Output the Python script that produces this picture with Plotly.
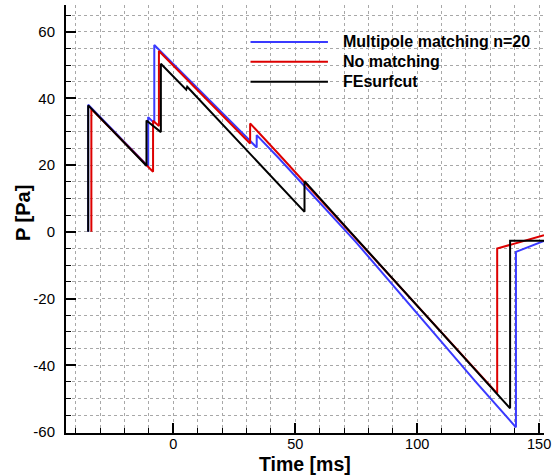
import plotly.graph_objects as go

# Multipole matching n=20
blue_x = [-34.9, -34.9, -10.3, -10.3, -7.8, -7.8, 34.2, 34.2, 43.0, 74.8, 124.3, 140.5, 140.5, 152.0]
blue_y = [0.0, 38.1, 19.6, 34.4, 32.6, 56.0, 25.3, 29.0, 22.3, -3.0, -45.2, -58.6, -6.0, -2.7]

# No matching
red_x = [-33.6, -33.6, -8.3, -8.3, -5.9, -5.9, 31.5, 31.5, 43.0, 74.8, 124.3, 132.8, 132.8, 152.0]
red_y = [0.0, 36.8, 18.0, 33.3, 31.7, 54.2, 26.5, 32.5, 23.5, -2.0, -41.9, -48.4, -5.0, -1.0]

# FEsurfcut
black_x = [-34.9, -34.9, -11.0, -11.0, -5.1, -5.1, 5.3, 5.7, 53.8, 53.8, 74.8, 124.3, 138.1, 138.1, 152.0]
black_y = [0.0, 37.9, 19.8, 33.4, 29.9, 50.4, 42.6, 43.5, 6.0, 15.2, -1.8, -41.6, -52.9, -2.7, -2.7]

series_names = ["Multipole matching n=20", "No matching", "FEsurfcut"]
series_colors = ["#3a3aff", "#dd0000", "#000000"]

x_ticks = [0, 50, 100, 150]
x_labels = ["0", "50", "100", "150"]
y_ticks = [-60, -40, -20, 0, 20, 40, 60]
y_labels = ["-60", "-40", "-20", "0", "20", "40", "60"]

FONT = "Liberation Sans, Arial, Helvetica, sans-serif"

fig = go.Figure()
for xs, ys, name, col in zip([blue_x, red_x, black_x], [blue_y, red_y, black_y], series_names, series_colors):
    fig.add_trace(go.Scatter(x=xs, y=ys, mode="lines", name=name,
                             line=dict(color=col, width=2), showlegend=False))

grid = dict(showgrid=True, gridcolor="#a8a8a8", griddash="dot", gridwidth=1)

fig.update_layout(
    width=556, height=476, autosize=False,
    margin=dict(l=66, r=8, t=5, b=43),
    paper_bgcolor="white", plot_bgcolor="white",
    font=dict(family=FONT, size=15, color="black"),
    xaxis=dict(range=[-44, 152], tickmode="array", tickvals=x_ticks, ticktext=x_labels,
               ticks="inside", ticklen=10, tickwidth=2, tickcolor="black",
               showline=True, linecolor="black", linewidth=2, mirror=False,
               zeroline=False, ticklabelstandoff=-3,
               tickfont=dict(size=14.5),
               minor=dict(dtick=10, tick0=0, ticks="inside", ticklen=5, tickwidth=1,
                          tickcolor="black", **grid),
               **grid),
    yaxis=dict(range=[-60.3, 68], tickmode="array", tickvals=y_ticks, ticktext=y_labels,
               ticks="inside", ticklen=10, tickwidth=2, tickcolor="black",
               showline=True, linecolor="black", linewidth=2, mirror=False,
               zeroline=False, ticklabelstandoff=6,
               tickfont=dict(size=15),
               minor=dict(dtick=5, tick0=0, ticks="inside", ticklen=5, tickwidth=1,
                          tickcolor="black", **grid),
               **grid),
)

# axis titles
fig.add_annotation(text="<b>Time [ms]</b>", xref="paper", yref="paper",
                   x=0.5, y=-0.072, xanchor="center", yanchor="middle",
                   showarrow=False, font=dict(size=19.5, family=FONT))
fig.add_annotation(text="<b>P [Pa]</b>", xref="paper", yref="paper",
                   x=-0.0913, y=0.515, xanchor="center", yanchor="middle",
                   textangle=-90, showarrow=False, font=dict(size=20, family=FONT))

# legend (drawn manually to match long sample lines)
leg_y = [0.9136, 0.8675, 0.8208]
for name, col, ly in zip(series_names, series_colors, leg_y):
    fig.add_shape(type="line", xref="paper", yref="paper", x0=0.386, x1=0.548,
                  y0=ly, y1=ly, line=dict(color=col, width=2))
    fig.add_annotation(text="<b>" + name + "</b>", xref="paper", yref="paper",
                       x=0.5747, y=ly, xanchor="left", yanchor="middle",
                       showarrow=False, font=dict(size=16, family=FONT))

fig.write_html("out.html", config={"displayModeBar": False},
               post_script="document.body.style.margin='0';document.body.style.overflow='hidden';")
